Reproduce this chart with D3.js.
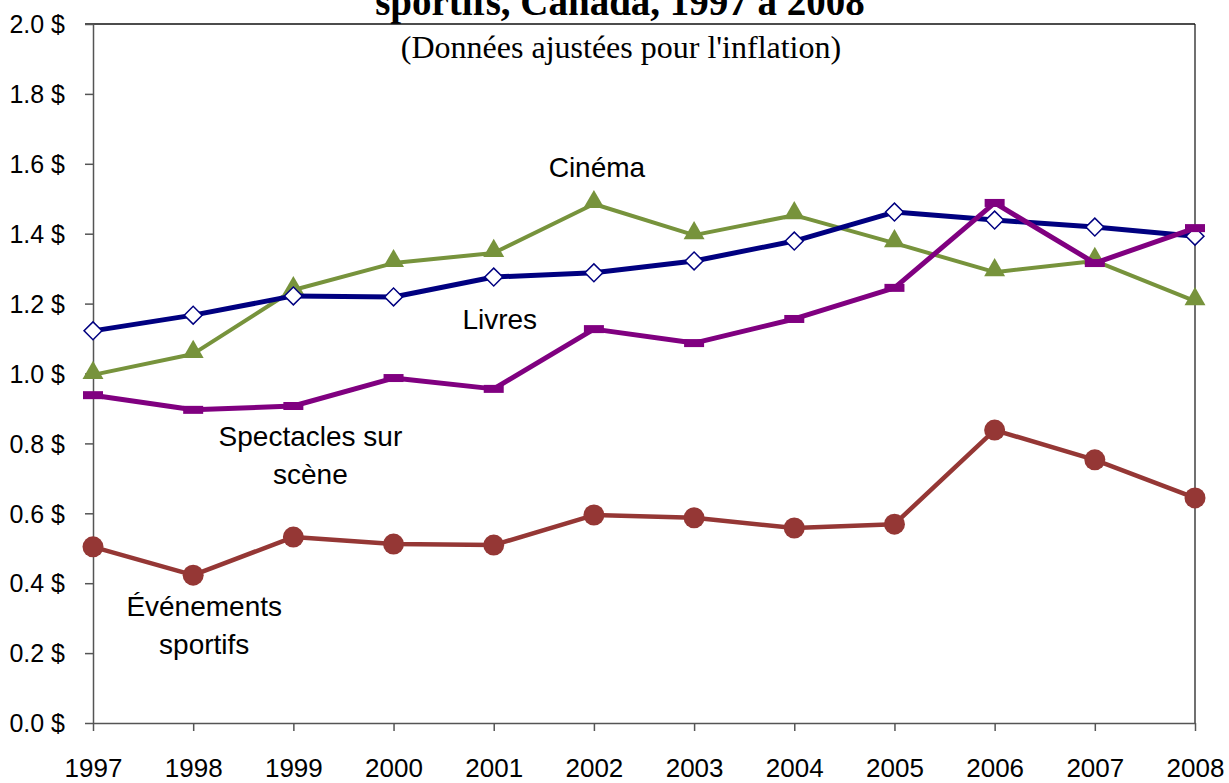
<!DOCTYPE html>
<meta charset="utf-8">
<html>
<style>
body { margin: 0; background: #fff; }
svg { display: block; background: #fff; }
.axis text { font-family: "Liberation Sans", Arial, sans-serif; font-size: 25px; fill: #000; }
.axis path, .axis line { stroke: #555; stroke-width: 1.5px; }
.lbl { font-family: "Liberation Sans", Arial, sans-serif; font-size: 28px; fill: #000; text-anchor: middle; }
</style>
<body>
<script src="https://cdnjs.cloudflare.com/ajax/libs/d3/7.8.5/d3.min.js"></script>
<script>
	var years = [1997, 1998, 1999, 2000, 2001, 2002, 2003, 2004, 2005, 2006, 2007, 2008];
	var yTicks = [0, 0.2, 0.4, 0.6, 0.8, 1.0, 1.2, 1.4, 1.6, 1.8, 2.0];

	var cinema      = [0.996, 1.056, 1.239, 1.316, 1.345, 1.485, 1.396, 1.453, 1.373, 1.290, 1.322, 1.207];
	var livres      = [1.122, 1.167, 1.222, 1.219, 1.276, 1.288, 1.322, 1.379, 1.462, 1.439, 1.419, 1.393];
	var spectacles  = [0.938, 0.896, 0.907, 0.987, 0.956, 1.127, 1.087, 1.156, 1.245, 1.488, 1.316, 1.416];
	var evenements  = [0.504, 0.423, 0.532, 0.512, 0.509, 0.595, 0.587, 0.558, 0.569, 0.838, 0.753, 0.644];

	var width = 1229;
	var height = 783;
	var plotLeft = 93, plotRight = 1195, plotTop = 24, plotBottom = 723;

	var svg = d3.select("body")
				.append("svg")
				.attr("width", width)
				.attr("height", height);

	var x = d3.scaleLinear().domain([1997, 2008]).range([plotLeft, plotRight]);
	var y = d3.scaleLinear().domain([0, 2]).range([plotBottom, plotTop]);

	// title (first line is cut off in the original)
	svg.append("text")
		.attr("x", 620)
		.attr("y", 15)
		.attr("text-anchor", "middle")
		.style("font-family", "'Liberation Serif', 'Times New Roman', serif")
		.style("font-weight", "bold")
		.style("font-size", "39px")
		.text("sportifs, Canada, 1997 à 2008");

	svg.append("text")
		.attr("x", 621)
		.attr("y", 58)
		.attr("text-anchor", "middle")
		.style("font-family", "'Liberation Serif', 'Times New Roman', serif")
		.style("font-size", "32px")
		.text("(Données ajustées pour l'inflation)");

	// frame
	svg.append("line").attr("x1", plotLeft - 8).attr("x2", plotRight).attr("y1", plotTop).attr("y2", plotTop)
		.attr("stroke", "#111").attr("stroke-width", 1.5);
	svg.append("line").attr("x1", plotRight).attr("x2", plotRight).attr("y1", plotTop).attr("y2", plotBottom)
		.attr("stroke", "#111").attr("stroke-width", 1.2);

	svg.append("g")
		.attr("class", "axis")
		.attr("transform", "translate(" + plotLeft + ",0)")
		.call(d3.axisLeft(y).tickValues(yTicks).tickSize(8).tickSizeOuter(0).tickPadding(20)
			.tickFormat(d => d.toFixed(1) + " $"))
		.selectAll("text").attr("dy", "0.35em");

	svg.append("g")
		.attr("class", "axis")
		.attr("transform", "translate(0," + plotBottom + ")")
		.call(d3.axisBottom(x).tickValues(years).tickSize(8).tickSizeOuter(0).tickPadding(28)
			.tickFormat(d3.format("d")))
		.selectAll("text").style("font-size", "26px");

	var line = d3.line().x((d, i) => x(years[i])).y(d => y(d));

	function drawLine(values, color, w) {
		svg.append("path")
			.datum(values)
			.attr("fill", "none")
			.attr("stroke", color)
			.attr("stroke-width", w)
			.attr("stroke-linejoin", "round")
			.attr("d", line);
	}

	// Cinéma
	drawLine(cinema, "#77933C", 4);
	svg.append("g").selectAll("path").data(cinema).enter().append("path")
		.attr("transform", (d, i) => "translate(" + x(years[i]) + "," + (y(d) - 2) + ")")
		.attr("d", d3.symbol().type(d3.symbolTriangle).size(190))
		.attr("fill", "#77933C");

	// Livres
	drawLine(livres, "#000080", 5);
	svg.append("g").selectAll("path").data(livres).enter().append("path")
		.attr("transform", (d, i) => "translate(" + x(years[i]) + "," + y(d) + ") rotate(45)")
		.attr("d", d3.symbol().type(d3.symbolSquare).size(160))
		.attr("fill", "#fff")
		.attr("stroke", "#000080")
		.attr("stroke-width", 1.5);

	// Spectacles sur scène
	drawLine(spectacles, "#800080", 5);
	svg.append("g").selectAll("rect").data(spectacles).enter().append("rect")
		.attr("x", (d, i) => x(years[i]) - 10)
		.attr("y", d => y(d) - 4)
		.attr("width", 20)
		.attr("height", 8)
		.attr("fill", "#800080");

	// Événements sportifs
	drawLine(evenements, "#953735", 4.5);
	svg.append("g").selectAll("circle").data(evenements).enter().append("circle")
		.attr("cx", (d, i) => x(years[i]))
		.attr("cy", d => y(d))
		.attr("r", 10.5)
		.attr("fill", "#953735");

	// series labels
	function label(lines, cx, cy) {
		var t = svg.append("text").attr("class", "lbl");
		lines.forEach(function(s, i) {
			t.append("tspan").attr("x", cx).attr("y", cy + i * 38).attr("dy", "0.35em").text(s);
		});
	}
	label(["Cinéma"], x(2002.03), y(1.59));
	label(["Livres"], x(2001.06), y(1.155));
	label(["Spectacles sur", "scène"], x(1999.17), y(0.82));
	label(["Événements", "sportifs"], x(1998.11), y(0.335));
</script>
</body>
</html>
